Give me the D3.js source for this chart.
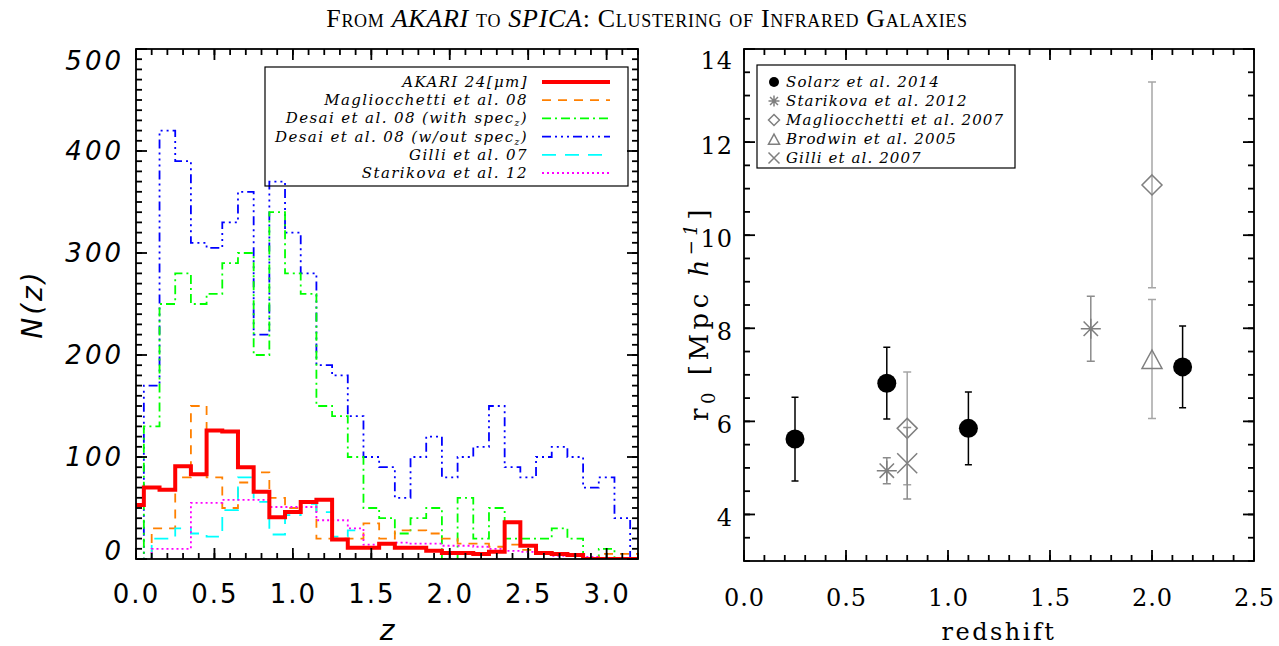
<!DOCTYPE html>
<html>
<head>
<meta charset="utf-8">
<script src="https://cdn.jsdelivr.net/npm/d3@7"></script>
<style>
  body { margin: 0; background: #fff; }
  svg { display: block; }
</style>
</head>
<body>
<svg id="fig" width="1279" height="646"></svg>
<script>
// ---- left panel: N(z) histograms, one value per bin centre ----
const zBins = [0.0, 0.1, 0.2, 0.3, 0.4, 0.5, 0.6, 0.7, 0.8, 0.9, 1.0, 1.1, 1.2, 1.3, 1.4, 1.5, 1.6,
  1.7, 1.8, 1.9, 2.0, 2.1, 2.2, 2.3, 2.4, 2.5, 2.6, 2.7, 2.8, 2.9, 3.0, 3.1, 3.2]

const akari = [53, 70, 68, 91, 83, 126, 125, 90, 66, 41, 46, 56, 58, 19, 11, 11, 15,
  11, 11, 8, 6, 6, 5, 7, 36, 13, 6, 5, 4, 0, 0, 0, 0]
const magliocchetti08 = [null, 30, 30, 80, 150, 80, 50, 75, 85, 60, 50, 55, 20, 20, 20, 35, 20,
  28, 28, 25, 20, 15, 15, 12, 14, 9, 6, 5, 5, 0, 5, 5, 5]
const desaiSpec = [0, 130, 250, 280, 250, 260, 290, 300, 200, 340, 280, 260, 150, 140, 100, 50, 40,
  25, 40, 50, 0, 60, 20, 50, 20, 20, 20, 30, 20, 0, 10, 0, 0]
const desaiNoSpec = [0, 170, 420, 390, 310, 305, 330, 360, 220, 370, 320, 280, 190, 180, 140, 100, 90,
  60, 100, 120, 80, 100, 110, 150, 90, 80, 100, 110, 100, 70, 80, 40, 0]
const gilli07 = [null, 20, 20, 30, 25, 22, 48, 80, 56, 24, 43, 54, 46, 22, 28]
const starikova12 = [null, 10, 10, 10, 55, 55, 58, 58, 58, 51, 51, 51, 38, 38, 30, 14, 15,
  16, 15, 15, 13, 13, 12, 10, 8, 7, 5, 3, 3, 2, 1, 1, 1]

const histLabels = ['AKARI 24[μm]', 'Magliocchetti et al. 08', 'Desai et al. 08 (with spec',
  'Desai et al. 08 (w/out spec', 'Gilli et al. 07', 'Starikova et al. 12']

const leftXTicks = [0, 0.5, 1.0, 1.5, 2.0, 2.5, 3.0]
const leftYTicks = [0, 100, 200, 300, 400, 500]

// ---- right panel: correlation length r0 vs redshift ----
const solarzZ = [0.25, 0.7, 1.1, 2.15]
const solarzR = [5.62, 6.82, 5.85, 7.17]
const solarzErr = [0.9, 0.77, 0.78, 0.88]

const starikovaZ = [0.7, 1.7]
const starikovaR = [4.94, 7.99]
const starikovaErr = [0.28, 0.7]

const maglioZ = [0.8, 2.0]
const maglioR = [5.85, 11.08]
const maglioErr = [1.21, 2.21]

const brodwinZ = [2.0]
const brodwinR = [7.34]
const brodwinErr = [1.28]

const gilliZ = [0.8]
const gilliR = [5.1]
const gilliErr = [0.77]

const pointLabels = ['Solarz et al. 2014', 'Starikova et al. 2012', 'Magliocchetti et al. 2007',
  'Brodwin et al. 2005', 'Gilli et al. 2007']

const rightXTicks = [0, 0.5, 1.0, 1.5, 2.0, 2.5]
const rightYTicks = [4, 6, 8, 10, 12, 14]

// ------------------------------------------------------------------
const svg = d3.select('#fig')
const sans = 'DejaVu Sans'
const serif = 'DejaVu Serif'

// title
const title = svg.append('text')
  .attr('x', 647).attr('y', 27)
  .attr('text-anchor', 'middle')
  .style('font-family', 'Liberation Serif')
  .style('font-size', '26px')
  .style('letter-spacing', '0.7px')
  .style('font-variant', 'small-caps')
title.append('tspan').text('From ')
title.append('tspan').style('font-style', 'italic').text('AKARI')
title.append('tspan').text(' to ')
title.append('tspan').style('font-style', 'italic').text('SPICA')
title.append('tspan').text(': Clustering of Infrared Galaxies')

const xL = d3.scaleLinear().domain([0, 3.2]).range([136, 638])
const yL = d3.scaleLinear().domain([0, 500]).range([559, 49])
const xR = d3.scaleLinear().domain([0, 2.5]).range([744, 1254])
const yR = d3.scaleLinear().domain([3, 14]).range([561, 49])

// inward ticks on all four sides, like the IDL plot frame
function frame (x, y, xMajor, xMinor, yMajor, yMinor, majorLen, minorLen) {
  const [x0, x1] = x.range()
  const [yb, yt] = y.range()
  const g = svg.append('g').attr('fill', 'none')
  const xT = xMinor.map(v => ({ p: x(v), len: minorLen })).concat(xMajor.map(v => ({ p: x(v), len: majorLen })))
  const yT = yMinor.map(v => ({ p: y(v), len: minorLen })).concat(yMajor.map(v => ({ p: y(v), len: majorLen })))
  const tick = sel => sel.attr('stroke', '#000').attr('stroke-width', 1.8)
  // bottom and top
  g.selectAll(null).data(xT).join('path').attr('d', d => `M${d.p},${yb - d.len}L${d.p},${yb}`).call(tick)
  g.selectAll(null).data(xT).join('path').attr('d', d => `M${d.p},${yt}L${d.p},${yt + d.len}`).call(tick)
  // left and right
  g.selectAll(null).data(yT).join('path').attr('d', d => `M${x0},${d.p}L${x0 + d.len},${d.p}`).call(tick)
  g.selectAll(null).data(yT).join('path').attr('d', d => `M${x1 - d.len},${d.p}L${x1},${d.p}`).call(tick)
  g.append('rect')
    .attr('x', x0).attr('y', yt)
    .attr('width', x1 - x0).attr('height', yb - yt)
    .attr('stroke', '#000').attr('stroke-width', 1.8)
}

// tick labels only (tick marks come from frame)
function labels (axis, tx, ty) {
  const a = svg.append('g').attr('transform', `translate(${tx},${ty})`).call(axis.tickSize(0))
  a.select('.domain').remove()
  a.selectAll('line').remove()
  return a.selectAll('text').attr('fill', '#000')
}

// ================= left panel =================
labels(d3.axisBottom(xL).tickValues(leftXTicks).tickPadding(26).tickFormat(d3.format('.1f')), 0, yL(0))
  .style('font-family', sans).style('font-size', '26px').style('letter-spacing', '2px')

labels(d3.axisLeft(yL).tickValues(leftYTicks).tickPadding(12), xL(0), 0)
  .style('font-family', sans).style('font-size', '26px')
  .style('font-style', 'italic').style('letter-spacing', '3px')
  .attr('dy', d => d === 500 ? '0.8em' : d === 0 ? '0em' : '0.32em')

svg.append('text')
  .attr('transform', `translate(42,${(yL(0) + yL(500)) / 2}) rotate(-90)`)
  .attr('text-anchor', 'middle')
  .style('font-family', sans).style('font-size', '28px').style('font-style', 'italic')
  .style('letter-spacing', '3px')
  .text('N(z)')
svg.append('text')
  .attr('x', (xL(0) + xL(3.2)) / 2).attr('y', 640)
  .attr('text-anchor', 'middle')
  .style('font-family', sans).style('font-size', '28px').style('font-style', 'italic')
  .text('z')

const histSeries = [
  { vals: desaiNoSpec, color: '#0000ff', width: 1.8, dash: '9,4,2,4,2,4,2,4' },
  { vals: desaiSpec, color: '#00ff00', width: 1.8, dash: '9,4,2,4' },
  { vals: magliocchetti08, color: '#ff8000', width: 1.8, dash: '9,7' },
  { vals: gilli07, color: '#00ffff', width: 1.8, dash: '14,9' },
  { vals: starikova12, color: '#ff00ff', width: 1.8, dash: '2,3' },
  { vals: akari, color: '#ff0000', width: 4, dash: null }
]

// histogram steps: each bin spans its centre +/- half a bin, the first and
// last bins are drawn half wide (start and end at the centre)
function stepPoints (vals) {
  const pts = []
  let prev = null
  let lastZ = null
  vals.forEach((v, i) => {
    if (v === null || v === undefined) return
    const z = zBins[i]
    if (prev === null) {
      if (z > 0) pts.push([z, 0])
      pts.push([z, v])
    } else {
      const edge = (zBins[i - 1] + z) / 2
      pts.push([edge, prev], [edge, v])
    }
    prev = v
    lastZ = z
  })
  pts.push([lastZ, prev])
  return pts
}

svg.append('clipPath').attr('id', 'clipL').append('rect')
  .attr('x', xL(0)).attr('y', yL(500)).attr('width', xL(3.2) - xL(0)).attr('height', yL(0) - yL(500))

const histLine = d3.line().x(d => xL(d[0])).y(d => yL(d[1]))
svg.append('g').attr('clip-path', 'url(#clipL)')
  .selectAll('path').data(histSeries).join('path')
  .attr('d', d => histLine(stepPoints(d.vals)))
  .attr('fill', 'none')
  .attr('stroke', d => d.color)
  .attr('stroke-width', d => d.width)
  .attr('stroke-dasharray', d => d.dash)

// legend (left)
const legL = svg.append('g')
legL.append('rect').attr('x', 265).attr('y', 67).attr('width', 363).attr('height', 119)
  .attr('fill', 'none').attr('stroke', '#000').attr('stroke-width', 1.2)
const legOrder = [5, 2, 1, 0, 3, 4]
legOrder.forEach((si, i) => {
  const s = histSeries[si]
  const cy = 82 + i * 18.2
  const t = legL.append('text').attr('x', 528).attr('y', cy + 5)
    .attr('text-anchor', 'end')
    .style('font-family', serif).style('font-size', '15px').style('font-style', 'italic')
    .style('letter-spacing', '1.4px')
  t.append('tspan').text(histLabels[i])
  if (i === 2 || i === 3) {
    t.append('tspan').attr('dy', 3).style('font-size', '9px').text('z')
    t.append('tspan').attr('dy', -3).text(')')
  }
  legL.append('line').attr('x1', 542).attr('x2', 610).attr('y1', cy).attr('y2', cy)
    .attr('stroke', s.color).attr('stroke-width', s.width).attr('stroke-dasharray', s.dash)
})

frame(xL, yL, leftXTicks, d3.range(0, 3.201, 0.1), leftYTicks, d3.range(0, 500.1, 10), 11, 6)

// ================= right panel =================
labels(d3.axisBottom(xR).tickValues(rightXTicks).tickPadding(28).tickFormat(d3.format('.1f')), 0, yR(3))
  .style('font-family', serif).style('font-size', '24px').style('letter-spacing', '1px')

labels(d3.axisLeft(yR).tickValues(rightYTicks).tickPadding(11).tickFormat(d3.format('d')), xR(0), 0)
  .style('font-family', serif).style('font-size', '24px').style('letter-spacing', '1px')
  .attr('dy', d => d === 14 ? '0.8em' : '0.48em')

svg.append('text')
  .attr('x', (xR(0) + xR(2.5)) / 2).attr('y', 640)
  .attr('text-anchor', 'middle')
  .style('font-family', serif).style('font-size', '24px').style('letter-spacing', '2.5px')
  .text('redshift')

const yLab = svg.append('text')
  .attr('transform', `translate(708,${(yR(3) + yR(14)) / 2 + 8}) rotate(-90)`)
  .attr('text-anchor', 'middle')
  .style('font-family', serif).style('font-size', '26px').style('letter-spacing', '4.5px')
yLab.append('tspan').text('r')
yLab.append('tspan').attr('dy', 7).style('font-size', '18px').text('0')
yLab.append('tspan').attr('dy', -7).text(' [Mpc ')
yLab.append('tspan').style('font-style', 'italic').text('h')
yLab.append('tspan').attr('dy', -11).style('font-size', '18px').style('font-style', 'italic').text('−1')
yLab.append('tspan').attr('dy', 11).text(']')

// markers
const gray = '#7f7f7f'
function symbol (g, kind, cx, cy, s, color) {
  if (kind === 'circle') {
    g.append('circle').attr('cx', cx).attr('cy', cy).attr('r', s).attr('fill', color)
  } else if (kind === 'asterisk') {
    const d = s * 0.72
    const p = `M${cx - s},${cy}H${cx + s}M${cx},${cy - s}V${cy + s}M${cx - d},${cy - d}L${cx + d},${cy + d}M${cx - d},${cy + d}L${cx + d},${cy - d}`
    g.append('path').attr('d', p).attr('stroke', color).attr('stroke-width', 1.5).attr('fill', 'none')
  } else if (kind === 'diamond') {
    g.append('path').attr('d', `M${cx},${cy - s}L${cx + s},${cy}L${cx},${cy + s}L${cx - s},${cy}Z`)
      .attr('stroke', color).attr('stroke-width', 1.5).attr('fill', 'none')
  } else if (kind === 'triangle') {
    g.append('path').attr('d', `M${cx},${cy - s * 0.9}L${cx + s},${cy + s * 0.95}L${cx - s},${cy + s * 0.95}Z`)
      .attr('stroke', color).attr('stroke-width', 1.5).attr('fill', 'none')
  } else if (kind === 'cross') {
    g.append('path').attr('d', `M${cx - s},${cy - s}L${cx + s},${cy + s}M${cx - s},${cy + s}L${cx + s},${cy - s}`)
      .attr('stroke', color).attr('stroke-width', 1.5).attr('fill', 'none')
  }
}

const pointSets = [
  { z: maglioZ, r: maglioR, e: maglioErr, kind: 'diamond', color: gray, bar: '#a6a6a6', size: 10 },
  { z: brodwinZ, r: brodwinR, e: brodwinErr, kind: 'triangle', color: gray, bar: '#a6a6a6', size: 10 },
  { z: gilliZ, r: gilliR, e: gilliErr, kind: 'cross', color: gray, bar: '#8c8c8c', size: 10 },
  { z: starikovaZ, r: starikovaR, e: starikovaErr, kind: 'asterisk', color: gray, bar: '#8c8c8c', size: 10 },
  { z: solarzZ, r: solarzR, e: solarzErr, kind: 'circle', color: '#000', bar: '#000', size: 9.5 }
]

const pts = svg.append('g')
pointSets.forEach(set => {
  set.z.forEach((z, i) => {
    const cx = xR(z)
    const lo = yR(set.r[i] - set.e[i])
    const hi = yR(set.r[i] + set.e[i])
    const bw = set.kind === 'circle' ? 3.5 : 4
    pts.append('path')
      .attr('d', `M${cx},${lo}V${hi}M${cx - bw},${lo}H${cx + bw}M${cx - bw},${hi}H${cx + bw}`)
      .attr('stroke', set.bar).attr('stroke-width', 1.5).attr('fill', 'none')
    symbol(pts, set.kind, cx, yR(set.r[i]), set.size, set.color)
  })
})

// legend (right)
const legR = svg.append('g')
legR.append('rect').attr('x', 757).attr('y', 65).attr('width', 258).attr('height', 103)
  .attr('fill', 'none').attr('stroke', '#000').attr('stroke-width', 1.2)
const legKinds = ['circle', 'asterisk', 'diamond', 'triangle', 'cross']
legKinds.forEach((k, i) => {
  const cy = 82 + i * 19
  symbol(legR, k, 774, cy, k === 'circle' ? 5 : 5.5, k === 'circle' ? '#000' : gray)
  legR.append('text').attr('x', 786).attr('y', cy + 5)
    .style('font-family', serif).style('font-size', '15px').style('font-style', 'italic')
    .style('letter-spacing', '1.1px')
    .text(pointLabels[i])
})

frame(xR, yR, rightXTicks, d3.range(0, 2.501, 0.1), rightYTicks, d3.range(3, 14.01, 0.5), 11, 6)
</script>
</body>
</html>
